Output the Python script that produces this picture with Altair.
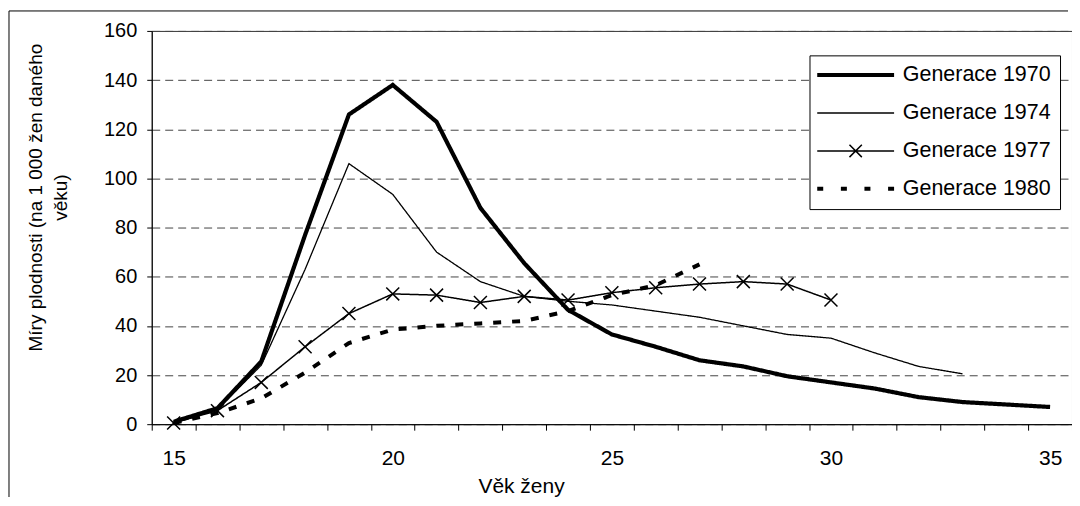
import altair as alt
import pandas as pd

# ---------------- data ----------------
ages_1970 = list(range(15, 36))
g1970 = [1, 6.5, 25.5, 77, 126, 138, 123, 88, 65.5, 46.5, 36.5, 31.5, 26, 23.5, 19.5, 17, 14.5, 11, 9, 8, 7]
ages_1974 = list(range(15, 34))
g1974 = [0.5, 6, 24, 63, 106, 93.5, 70, 58, 52, 50, 48.5, 46, 43.5, 40, 36.5, 35, 29, 23.5, 20.5]
ages_1977 = list(range(15, 31))
g1977 = [0.5, 5.5, 17, 31.5, 45, 53, 52.5, 49.5, 52, 50.5, 53.5, 55.5, 57, 58, 57, 50.5]
ages_1980 = list(range(15, 28))
g1980 = [0.5, 4.5, 10.5, 21, 33, 38.5, 40, 41, 42, 46, 52.5, 56.5, 65]

series_names = ["Generace 1970", "Generace 1974", "Generace 1977", "Generace 1980"]
y_ticks = [0, 20, 40, 60, 80, 100, 120, 140, 160]
x_labels = [15, 20, 25, 30, 35]
x_title = "Věk ženy"
y_title = ["Míry plodnosti (na 1 000 žen daného", "věku)"]

rows = []
for name, ages, vals in zip(series_names,
                            [ages_1970, ages_1974, ages_1977, ages_1980],
                            [g1970, g1974, g1977, g1980]):
    for a, v in zip(ages, vals):
        rows.append({"age": a, "value": v, "series": name})
df = pd.DataFrame(rows)
legend_df = pd.DataFrame({"series": series_names})

all_ages = ages_1970
tick_values = [a - 0.5 for a in all_ages] + [all_ages[-1] + 0.5]

# ---------------- legend symbol paths (filled shapes, unit = 10 px) ----------------
def rect(x0, x1, h):
    return f"M{x0:.3f},{-h:.3f}H{x1:.3f}V{h:.3f}H{x0:.3f}Z"

HALF = 3.85  # half length of the legend line sample (38.5 px)
a, t = 0.62, 0.053
xmark = (f"M{-a+t:.4f},{-a-t:.4f}L{a+t:.4f},{a-t:.4f}L{a-t:.4f},{a+t:.4f}L{-a-t:.4f},{-a+t:.4f}Z"
         f"M{-a+t:.4f},{a+t:.4f}L{-a-t:.4f},{a-t:.4f}L{a-t:.4f},{-a-t:.4f}L{a+t:.4f},{-a+t:.4f}Z")
dash_path = "".join(rect(c - 0.3, c + 0.3, 0.2) for c in [-3.55, -1.18, 1.18, 3.55])
legend_paths = [rect(-HALF, HALF, 0.2), rect(-HALF, HALF, 0.065),
                rect(-HALF, HALF, 0.075) + xmark, dash_path]

FONT = "Liberation Sans"

x_enc = alt.X(
    "age:Q",
    scale=alt.Scale(domain=[tick_values[0], tick_values[-1]], nice=False, zero=False),
    axis=alt.Axis(
        values=tick_values,
        labelExpr="indexof([" + ",".join(str(v) for v in x_labels) + "], datum.value + 0.5) >= 0 ? format(datum.value + 0.5, 'd') : ''",
        labelOffset=22, labelFlush=False, labelOverlap=False, grid=False,
        tickSize=6, labelPadding=17.6, labelFontSize=21,
        title=x_title, titleX=370, titleY=68.5, titleAlign="center",
        titleBaseline="alphabetic", titleFontSize=21,
    ),
)
y_enc = alt.Y(
    "value:Q",
    scale=alt.Scale(domain=[0, 160], nice=False),
    axis=alt.Axis(
        values=y_ticks, grid=True, gridDash=[8, 5], gridColor="#444",
        tickSize=5, labelPadding=10, labelFontSize=20,
        title=y_title, titleX=-110, titleY=166.5, titleAlign="center",
        titleBaseline="alphabetic", titleAngle=270, titleLineHeight=25, titleFontSize=19,
    ),
)

base = alt.Chart(df)


def line_layer(name, width, dash):
    return base.transform_filter(alt.datum.series == name).mark_line(
        color="black", strokeWidth=width, strokeDash=dash, strokeCap="butt"
    ).encode(x=x_enc, y=y_enc)


l1970 = line_layer("Generace 1970", 4.2, [1, 0])
l1974 = line_layer("Generace 1974", 1.3, [1, 0])
l1977 = line_layer("Generace 1977", 1.5, [1, 0])
l1980 = line_layer("Generace 1980", 4, [8, 11])

markers = base.transform_filter(alt.datum.series == "Generace 1977").mark_point(
    shape="M-1,-1L1,1M-1,1L1,-1", size=169, filled=False, color="black", strokeWidth=1.5, opacity=1
).encode(x=x_enc, y=y_enc)

# invisible points that only carry the legend (symbols are custom paths)
legend_layer = alt.Chart(legend_df).mark_point(
    filled=True, color="black", opacity=0
).encode(
    x=alt.value(0), y=alt.value(0),
    shape=alt.Shape("series:N", scale=alt.Scale(domain=series_names, range=legend_paths),
                    legend=alt.Legend(title=None, orient="none", legendX=659, legendY=24.5)),
)

one = pd.DataFrame({"k": [0]})
frame_top = alt.Chart(one).mark_rule(color="black", strokeWidth=1).encode(
    x=alt.value(-143), x2=alt.value(918), y=alt.value(-20))
frame_left = alt.Chart(one).mark_rule(color="black", strokeWidth=1).encode(
    x=alt.value(-143), y=alt.value(-20), y2=alt.value(470))

chart = alt.layer(frame_top, frame_left, l1974, l1977, l1980, l1970, markers, legend_layer).properties(
    width=922, height=394,
    autosize=alt.AutoSizeParams(type="none"),
    padding={"left": 144, "top": 22.5, "right": 0, "bottom": 72.5},
).configure_view(stroke="#333", strokeWidth=1).configure_axis(
    labelFont=FONT, titleFont=FONT, labelColor="black", titleColor="black",
    domainColor="black", tickColor="black", titleFontWeight="normal",
).configure_legend(
    labelFont=FONT, labelFontSize=21.5, labelColor="black", labelOffset=36.5, labelLimit=0,
    symbolSize=400, symbolOffset=26.5, symbolStrokeWidth=0, symbolOpacity=1, symbolFillColor="black",
    strokeColor="black", fillColor="white", padding=9, rowPadding=15,
)

chart.save("out.html", embed_options={"renderer": "svg", "actions": False})
